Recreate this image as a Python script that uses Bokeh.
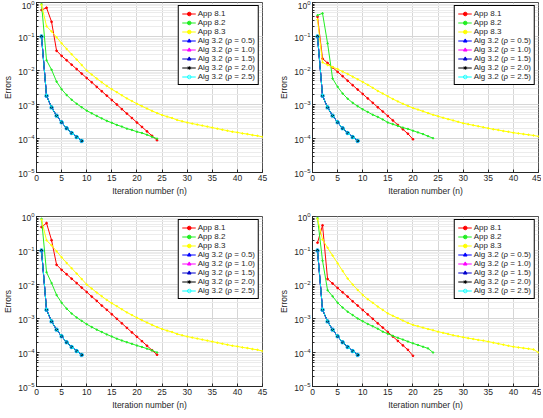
from bokeh.plotting import figure
from bokeh.layouts import gridplot
from bokeh.models import Legend, LegendItem, LogTicker, FixedTicker, Range1d
from bokeh.embed import file_html
from bokeh.resources import INLINE
import math

# ---------------- data ----------------
x_ticks = [0, 5, 10, 15, 20, 25, 30, 35, 40, 45]

alg = [0.1, 1.8e-3, 8.2e-4, 4.7e-4, 3.0e-4, 2.0e-4, 1.45e-4, 1.1e-4, 8.5e-5]

tl_red = [0.6, 0.7, 0.27, 0.038, 2.7e-2, 2.0e-2, 1.48e-2, 1.10e-2, 8.1e-3, 6.0e-3,
          4.5e-3, 3.3e-3, 2.45e-3, 1.82e-3, 1.35e-3, 1.0e-3, 7.3e-4, 5.4e-4, 4.0e-4,
          2.95e-4, 2.19e-4, 1.62e-4, 1.20e-4, 8.9e-5]
tl_green = [0.9, 2.0e-2, 1.05e-2, 4.7e-3, 2.8e-3, 1.9e-3, 1.38e-3, 1.05e-3, 8.3e-4,
            6.6e-4, 5.5e-4, 4.6e-4, 3.9e-4, 3.3e-4, 2.9e-4, 2.5e-4, 2.24e-4, 1.95e-4,
            1.78e-4, 1.58e-4, 1.45e-4, 1.29e-4, 1.12e-4, 9.9e-5]
tl_yellow = [0.85, 0.20, 0.141, 0.095, 0.063, 0.043, 0.030, 0.021, 0.0145, 0.0100,
             7.6e-3, 5.8e-3, 4.5e-3, 3.5e-3, 2.8e-3, 2.3e-3, 1.86e-3, 1.51e-3, 1.26e-3,
             1.05e-3, 8.9e-4, 7.6e-4, 6.5e-4, 5.6e-4, 4.9e-4, 4.4e-4, 4.0e-4, 3.5e-4,
             3.2e-4, 2.95e-4, 2.75e-4, 2.57e-4, 2.40e-4, 2.24e-4, 2.09e-4, 1.95e-4,
             1.82e-4, 1.70e-4, 1.58e-4, 1.51e-4, 1.41e-4, 1.35e-4, 1.26e-4, 1.20e-4, 1.12e-4]

tr_red = [0.38, 2.24e-2, 1.66e-2, 1.23e-2, 9.1e-3, 6.8e-3, 5.0e-3, 3.7e-3, 2.75e-3,
          2.04e-3, 1.51e-3, 1.12e-3, 8.3e-4, 6.2e-4, 4.6e-4, 3.4e-4, 2.5e-4, 1.86e-4,
          1.38e-4, 9.5e-5]
tr_green = [0.42, 0.48, 0.063, 5.8e-3, 3.3e-3, 2.1e-3, 1.48e-3, 1.12e-3, 8.9e-4, 7.2e-4,
            6.0e-4, 5.0e-4, 4.3e-4, 3.63e-4, 2.95e-4, 2.63e-4, 2.34e-4, 2.09e-4, 1.91e-4,
            1.70e-4, 1.51e-4, 1.35e-4, 1.17e-4, 1.02e-4]
tr_yellow = [0.316, 0.0174, 0.0145, 0.0126, 0.011, 9.3e-3, 7.9e-3, 6.6e-3, 5.5e-3, 4.6e-3,
             3.8e-3, 3.1e-3, 2.5e-3, 2.1e-3, 1.74e-3, 1.45e-3, 1.23e-3, 1.05e-3, 9.1e-4,
             7.9e-4, 7.1e-4, 6.3e-4, 5.6e-4, 5.0e-4, 4.5e-4, 4.1e-4, 3.7e-4, 3.4e-4,
             3.1e-4, 2.8e-4, 2.63e-4, 2.45e-4, 2.29e-4, 2.14e-4, 2.0e-4, 1.86e-4, 1.78e-4,
             1.66e-4, 1.58e-4, 1.48e-4, 1.41e-4, 1.35e-4, 1.29e-4, 1.23e-4, 1.15e-4]

bl_red = [0.49, 0.64, 0.2, 0.038, 2.7e-2, 2.0e-2, 1.48e-2, 1.10e-2, 8.1e-3, 6.0e-3,
          4.4e-3, 3.3e-3, 2.4e-3, 1.8e-3, 1.33e-3, 9.8e-4, 7.2e-4, 5.3e-4, 3.9e-4,
          2.9e-4, 2.15e-4, 1.58e-4, 1.17e-4, 8.6e-5]
bl_green = [0.85, 2.3e-2, 1.1e-2, 4.9e-3, 2.9e-3, 1.95e-3, 1.4e-3, 1.07e-3, 8.5e-4,
            6.8e-4, 5.6e-4, 4.7e-4, 4.0e-4, 3.4e-4, 2.95e-4, 2.55e-4, 2.25e-4, 2.0e-4,
            1.8e-4, 1.6e-4, 1.45e-4, 1.3e-4, 1.15e-4, 1.0e-4]
bl_yellow = [0.8, 0.20, 0.141, 0.095, 0.063, 0.043, 0.030, 0.021, 0.0145, 0.0100,
             7.6e-3, 5.8e-3, 4.5e-3, 3.5e-3, 2.8e-3, 2.3e-3, 1.86e-3, 1.51e-3, 1.26e-3,
             1.05e-3, 8.9e-4, 7.6e-4, 6.5e-4, 5.6e-4, 4.9e-4, 4.4e-4, 4.0e-4, 3.5e-4,
             3.2e-4, 2.95e-4, 2.75e-4, 2.57e-4, 2.40e-4, 2.24e-4, 2.09e-4, 1.95e-4,
             1.82e-4, 1.70e-4, 1.58e-4, 1.51e-4, 1.41e-4, 1.35e-4, 1.26e-4, 1.20e-4, 1.10e-4]

br_red = [0.17, 0.55, 1.45e-2, 1.07e-2, 7.9e-3, 5.9e-3, 4.4e-3, 3.2e-3, 2.4e-3, 1.78e-3,
          1.32e-3, 9.8e-4, 7.2e-4, 5.4e-4, 4.0e-4, 2.95e-4, 2.19e-4, 1.62e-4, 1.20e-4, 8.0e-5]
br_green = [0.9, 0.05, 6.8e-3, 4.5e-3, 2.9e-3, 2.1e-3, 1.58e-3, 1.26e-3, 1.0e-3, 8.3e-4,
            6.9e-4, 5.9e-4, 5.0e-4, 4.1e-4, 3.55e-4, 3.1e-4, 2.7e-4, 2.4e-4, 2.1e-4,
            1.86e-4, 1.66e-4, 1.48e-4, 1.32e-4, 1.0e-4]
br_yellow = [0.85, 0.21, 0.12, 0.071, 0.042, 0.025, 0.015, 0.010, 6.9e-3, 4.9e-3, 3.7e-3,
             2.9e-3, 2.24e-3, 1.78e-3, 1.41e-3, 1.2e-3, 1.02e-3, 8.7e-4, 7.4e-4, 6.5e-4,
             5.9e-4, 5.4e-4, 4.9e-4, 4.5e-4, 4.1e-4, 3.8e-4, 3.5e-4, 3.2e-4, 3.0e-4, 2.8e-4,
             2.63e-4, 2.5e-4, 2.34e-4, 2.24e-4, 2.09e-4, 1.95e-4, 1.82e-4, 1.70e-4, 1.58e-4,
             1.48e-4, 1.41e-4, 1.35e-4, 1.29e-4, 1.23e-4, 1.0e-4]

labels = ["App 8.1", "App 8.2", "App 8.3",
          "Alg 3.2 (ρ = 0.5)", "Alg 3.2 (ρ = 1.0)", "Alg 3.2 (ρ = 1.5)",
          "Alg 3.2 (ρ = 2.0)", "Alg 3.2 (ρ = 2.5)"]

FONT = "Liberation Sans"


def idx(v):
    return list(range(1, len(v) + 1))


def make_panel(red, green, yellow, left, right, top, bottom):
    p = figure(frame_width=226, frame_height=170, y_axis_type="log",
               x_range=Range1d(0, 45), y_range=Range1d(1e-5, 1),
               output_backend="svg", toolbar_location=None,
               min_border_left=left, min_border_right=right,
               min_border_top=top, min_border_bottom=bottom)
    p.background_fill_color = "white"
    p.outline_line_color = "#262626"
    p.outline_line_width = 0.8
    p.outline_line_alpha = 1.0

    p.xaxis.ticker = FixedTicker(ticks=x_ticks)
    p.yaxis.ticker = LogTicker(mantissas=[1], desired_num_ticks=6, num_minor_ticks=10)
    p.xgrid.grid_line_color = "#d6d6d6"
    p.ygrid.grid_line_color = "#d6d6d6"
    p.ygrid.minor_grid_line_color = "#ececec"

    for ax in (p.xaxis[0], p.yaxis[0]):
        ax.axis_line_color = "#262626"
        ax.major_tick_line_color = "#262626"
        ax.major_tick_in = 3
        ax.major_tick_out = 0
        ax.minor_tick_in = 2
        ax.minor_tick_out = 0
        ax.major_label_text_font = FONT
        ax.major_label_text_font_size = "8.5px"
        ax.major_label_text_color = "#262626"
        ax.major_label_standoff = 2
        ax.axis_label_text_font = FONT
        ax.axis_label_text_font_size = "8.5px"
        ax.axis_label_text_font_style = "normal"
        ax.axis_label_text_color = "#262626"
        ax.axis_label_standoff = 2
    p.xaxis.minor_tick_line_color = None
    p.yaxis.minor_tick_line_color = "#262626"
    p.xaxis.axis_label = "Iteration number (n)"
    p.yaxis.axis_label = "Errors"

    items = []
    r1 = p.line(idx(red), red, line_color="red", line_width=1)
    r1m = p.scatter(idx(red), red, marker="circle", size=1.8, color="red")
    items.append(LegendItem(label=labels[0], renderers=[r1, r1m]))
    r2 = p.line(idx(green), green, line_color="#22ee22", line_width=1)
    r2m = p.scatter(idx(green), green, marker="circle", size=1.5, color="#22ee22")
    items.append(LegendItem(label=labels[1], renderers=[r2, r2m]))
    r3 = p.line(idx(yellow), yellow, line_color="yellow", line_width=1)
    r3m = p.scatter(idx(yellow), yellow, marker="circle", size=1.5, color="yellow")
    items.append(LegendItem(label=labels[2], renderers=[r3, r3m]))

    ax_ = idx(alg)
    specs = [
        ("blue", "triangle", -math.pi / 2, True),
        ("magenta", "triangle", math.pi / 2, True),
        ("#0000cc", "triangle", 0.0, True),
        ("black", "asterisk", 0.0, True),
        ("cyan", "circle", 0.0, False),
    ]
    alg_items = []
    for (col, mk, ang, filled), lab in zip(specs, labels[3:]):
        lr = p.line(ax_, alg, line_color=col, line_width=1)
        if filled:
            mr = p.scatter(ax_, alg, marker=mk, angle=ang, size=3,
                           line_color=col, fill_color=col)
        else:
            mr = p.scatter(ax_, alg, marker=mk, size=3.5, line_color=col,
                           fill_color=None, line_width=0.8)
        alg_items.append(LegendItem(label=lab, renderers=[lr, mr]))
    p.line(ax_, alg, line_color="#1f5fd0", line_width=1, line_dash="3 3")
    items.extend(alg_items)

    leg = Legend(items=items, location="top_right")
    leg.label_text_font = FONT
    leg.label_text_font_size = "8px"
    leg.label_text_color = "#262626"
    leg.label_height = 9
    leg.glyph_height = 9
    leg.glyph_width = 14
    leg.label_standoff = 2
    leg.spacing = 0
    leg.padding = 3
    leg.margin = 3
    leg.border_line_color = "black"
    leg.border_line_width = 1
    leg.border_line_alpha = 1.0
    leg.background_fill_color = "white"
    leg.background_fill_alpha = 1.0
    p.add_layout(leg, "center")
    return p


p1 = make_panel(tl_red, tl_green, tl_yellow, 22, 14, 2, 34)
p2 = make_panel(tr_red, tr_green, tr_yellow, 36, 3, 2, 34)
p3 = make_panel(bl_red, bl_green, bl_yellow, 22, 14, 10, 24)
p4 = make_panel(br_red, br_green, br_yellow, 36, 3, 10, 24)

grid = gridplot([[p1, p2], [p3, p4]], toolbar_location=None)

with open("out.html", "w") as f:
    f.write(file_html(grid, INLINE))
